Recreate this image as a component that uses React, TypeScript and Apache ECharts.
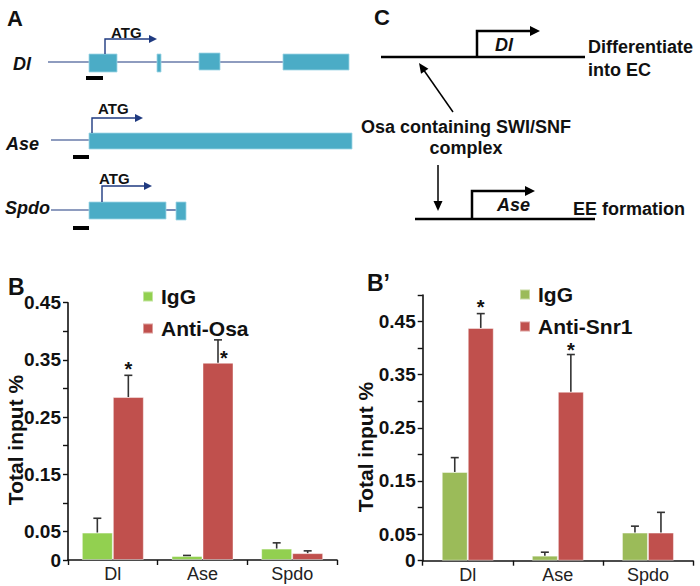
import React, { useEffect, useRef } from 'react';
import * as echarts from 'echarts';

const FONT = '"Liberation Sans", Arial, Helvetica, sans-serif';

// ---- data ----
const categories = ['Dl', 'Ase', 'Spdo'];
// Panel B (Anti-Osa ChIP)
const osaIgG = [0.048, 0.007, 0.02];
const osaIgGSd = [0.025, 0.001, 0.01];
const osaAnti = [0.285, 0.345, 0.012];
const osaAntiSd = [0.038, 0.04, 0.004];
const osaStars = [0.343, 0.3625, null];
const osaStarShift = [0, 6, 0];
// Panel B' (Anti-Snr1 ChIP)
const snrIgG = [0.167, 0.0095, 0.053];
const snrIgGSd = [0.027, 0.0065, 0.012];
const snrAnti = [0.438, 0.318, 0.053];
const snrAntiSd = [0.027, 0.07, 0.038];
const snrStars = [0.486, 0.406, null];
const snrStarShift = [0, 0, 0];
const labeledTicks = [0, 0.05, 0.15, 0.25, 0.35, 0.45];

const GREEN_B = '#92D050';
const GREEN_B2 = '#9BBB59';
const RED = '#C0504D';
const EXON = '#4BACC6';
const NAVY = '#1F3A80';

function arrowHead(tx: number, ty: number, dx: number, dy: number, len: number, half: number, color: string) {
  const l = Math.hypot(dx, dy);
  const ux = dx / l, uy = dy / l;
  const bx = tx - ux * len, by = ty - uy * len;
  const px = -uy, py = ux;
  return {
    type: 'polygon',
    shape: { points: [[tx, ty], [bx + px * half, by + py * half], [bx - px * half, by - py * half]] },
    style: { fill: color },
  };
}

function line(x1: number, y1: number, x2: number, y2: number, color: string, w: number) {
  return { type: 'line', shape: { x1, y1, x2, y2 }, style: { stroke: color, lineWidth: w } };
}

function text(x: number, y: number, t: string, size: number, opts: any = {}) {
  return {
    type: 'text',
    x,
    y,
    style: {
      text: t,
      fontSize: size,
      fontWeight: 'bold',
      fontFamily: FONT,
      fill: '#111',
      textVerticalAlign: 'middle',
      verticalAlign: 'middle',
      ...opts,
    },
  };
}

function exon(x: number, y: number, w: number, h: number) {
  return { type: 'rect', shape: { x, y, width: w, height: h }, style: { fill: EXON, stroke: '#9fd6e6', lineWidth: 0.8 } };
}

function blackBar(x: number, y: number, w: number) {
  return { type: 'rect', shape: { x, y, width: w, height: 4 }, style: { fill: '#000' } };
}

function promoter(x: number, yBase: number, yTop: number, xEnd: number, color: string, w: number, headLen: number, headHalf: number) {
  return [
    { type: 'polyline', shape: { points: [[x, yBase], [x, yTop], [xEnd - headLen + 1, yTop]] }, style: { stroke: color, lineWidth: w, fill: null } },
    arrowHead(xEnd, yTop, 1, 0, headLen, headHalf, color),
  ];
}

function buildGraphics() {
  const g: any[] = [];
  // Panel letters
  g.push(text(7, 18, 'A', 22));
  g.push(text(374, 17, 'C', 22));
  g.push(text(8, 287, 'B', 23));
  g.push(text(367, 283, 'B\u2019', 23));

  // ---- Panel A: gene models ----
  // Dl
  g.push(text(13, 64, 'Dl', 18, { fontStyle: 'italic' }));
  g.push(line(48, 62, 89, 62, NAVY, 1.2));
  g.push(line(117, 62, 157, 62, NAVY, 1.2));
  g.push(line(161, 62, 199, 62, NAVY, 1.2));
  g.push(line(220, 62, 283, 62, NAVY, 1.2));
  g.push(exon(89, 54, 28, 18));
  g.push(exon(157, 54, 4, 18));
  g.push(exon(199, 53, 21, 17));
  g.push(exon(283, 54, 66, 16));
  g.push(...promoter(105, 54, 39, 157, NAVY, 1.4, 8, 4));
  g.push(text(111, 32, 'ATG', 15));
  g.push(blackBar(86, 76, 17));
  // Ase
  g.push(text(6, 144, 'Ase', 18, { fontStyle: 'italic' }));
  g.push(line(51, 140, 89, 140, NAVY, 1.2));
  g.push(exon(89, 133, 263, 16));
  g.push(...promoter(92, 133, 118, 143, NAVY, 1.4, 8, 4));
  g.push(text(98, 108, 'ATG', 15));
  g.push(blackBar(73, 155, 16));
  // Spdo
  g.push(text(5, 208, 'Spdo', 18, { fontStyle: 'italic' }));
  g.push(line(51, 210, 89, 210, NAVY, 1.2));
  g.push(line(166, 210, 176, 210, NAVY, 1.2));
  g.push(exon(89, 202, 77, 17));
  g.push(exon(176, 202, 10, 18));
  g.push(...promoter(102, 202, 186, 152, NAVY, 1.4, 8, 4));
  g.push(text(99, 178, 'ATG', 15));
  g.push(blackBar(73, 226, 16));

  // ---- Panel C: model ----
  g.push(line(381, 57, 585, 57, '#000', 2.5));
  g.push(...promoter(477, 57, 31, 540, '#000', 2.5, 10, 5));
  g.push(text(495, 45, 'Dl', 18, { fontStyle: 'italic' }));
  g.push(text(588, 47, 'Differentiate', 18));
  g.push(text(588, 70, 'into EC', 18));
  g.push(line(453, 112, 423, 69, '#000', 1.5));
  g.push(arrowHead(419, 63, -30, -43, 10, 4.5, '#000'));
  g.push(text(466, 127, 'Osa containing SWI/SNF', 18, { textAlign: 'center', align: 'center' }));
  g.push(text(466, 148, 'complex', 18, { textAlign: 'center', align: 'center' }));
  g.push(line(438, 165, 438, 202, '#000', 1.5));
  g.push(arrowHead(438, 211, 0, 1, 10, 4.5, '#000'));
  g.push(line(415, 219, 595, 219, '#000', 2.5));
  g.push(...promoter(472, 219, 191, 535, '#000', 2.5, 10, 5));
  g.push(text(497, 205, 'Ase', 18, { fontStyle: 'italic' }));
  g.push(text(573, 209, 'EE formation', 18));

  // y-axis titles
  g.push({
    type: 'text',
    x: 15,
    y: 440,
    rotation: Math.PI / 2,
    style: { text: 'Total input %', fontSize: 21, fontWeight: 'bold', fontFamily: FONT, fill: '#111', align: 'center', verticalAlign: 'middle' },
  });
  g.push({
    type: 'text',
    x: 365,
    y: 447,
    rotation: Math.PI / 2,
    style: { text: 'Total input %', fontSize: 21, fontWeight: 'bold', fontFamily: FONT, fill: '#111', align: 'center', verticalAlign: 'middle' },
  });
  return g;
}

function yAxis(gridIndex: number, max: number) {
  return {
    type: 'value',
    gridIndex,
    min: 0,
    max,
    interval: 0.05,
    axisLine: { show: true, lineStyle: { color: '#111', width: 1.6 } },
    axisTick: { show: true, length: 5, lineStyle: { color: '#111', width: 1.4 } },
    splitLine: { show: false },
    axisLabel: {
      margin: 7,
      fontSize: 19,
      fontWeight: 'bold',
      color: '#111',
      fontFamily: FONT,
      formatter: (v: number) => {
        const r = Math.round(v * 100) / 100;
        return labeledTicks.some((t) => Math.abs(t - r) < 1e-6) ? (r === 0 ? '0' : r.toFixed(2)) : '';
      },
    },
  };
}

function xAxis(gridIndex: number) {
  return {
    type: 'category',
    gridIndex,
    data: categories,
    axisLine: { show: true, lineStyle: { color: '#111', width: 1.6 } },
    axisTick: { show: true, length: 5, alignWithLabel: false, lineStyle: { color: '#111', width: 1.4 } },
    axisLabel: { margin: 5, fontSize: 18, color: '#222', fontFamily: FONT },
  };
}

function errSeries(name: string, axis: number, vals: number[], sds: number[], offsetSign: number, barW: number) {
  return {
    type: 'custom',
    name,
    xAxisIndex: axis,
    yAxisIndex: axis,
    z: 5,
    data: vals.map((v, i) => [i, v, sds[i]]),
    encode: { x: 0, y: 1 },
    renderItem: (_p: any, api: any) => {
      const ci = api.value(0);
      const v = api.value(1);
      const sd = api.value(2);
      const b = api.coord([ci, v]);
      const t = api.coord([ci, v + sd]);
      const x = b[0] + (offsetSign * barW) / 2;
      return {
        type: 'group',
        children: [
          { type: 'line', shape: { x1: x, y1: b[1], x2: x, y2: t[1] }, style: { stroke: '#333', lineWidth: 1.6 } },
          { type: 'line', shape: { x1: x - 4, y1: t[1], x2: x + 4, y2: t[1] }, style: { stroke: '#333', lineWidth: 1.6 } },
        ],
      };
    },
  };
}

function starSeries(name: string, axis: number, stars: (number | null)[], shifts: number[], barW: number) {
  const data = stars.map((s, i) => (s == null ? null : [i, s, shifts[i]])).filter((d) => d);
  return {
    type: 'custom',
    name,
    xAxisIndex: axis,
    yAxisIndex: axis,
    z: 6,
    data,
    encode: { x: 0, y: 1 },
    renderItem: (_p: any, api: any) => {
      const c = api.coord([api.value(0), api.value(1)]);
      return {
        type: 'text',
        x: c[0] + barW / 2 + api.value(2),
        y: c[1] + 5,
        style: { text: '*', fontSize: 20, lineHeight: 12, fontWeight: 'bold', fontFamily: FONT, fill: '#111', align: 'center', verticalAlign: 'middle' },
      };
    },
  };
}

function barSeries(name: string, axis: number, vals: number[], color: string, barW: number) {
  return {
    type: 'bar',
    name,
    xAxisIndex: axis,
    yAxisIndex: axis,
    data: vals,
    barWidth: barW,
    barGap: '0%',
    itemStyle: { color, borderColor: 'rgba(255,255,255,0.45)', borderWidth: 1 },
  };
}

export default function App() {
  const ref = useRef<HTMLDivElement>(null);
  useEffect(() => {
    document.body.style.margin = '0';
    if (!ref.current) return;
    const chart = echarts.init(ref.current, null, { renderer: 'svg' });
    const BW1 = 31;
    const BW2 = 26;
    const legendText = { fontSize: 21, fontWeight: 'bold', color: '#111', fontFamily: FONT, lineHeight: 20, padding: [0, 0, 0, 3] };
    chart.setOption({
      animation: false,
      backgroundColor: '#fff',
      textStyle: { fontFamily: FONT },
      grid: [
        { left: 68, top: 302.7, width: 269, height: 257.3, containLabel: false },
        { left: 422.7, top: 295, width: 270.3, height: 265.7, containLabel: false },
      ],
      xAxis: [xAxis(0), xAxis(1)],
      yAxis: [yAxis(0, 0.45), yAxis(1, 0.5)],
      legend: [
        {
          left: 137,
          top: 281,
          orient: 'vertical',
          icon: 'rect',
          itemWidth: 10,
          itemHeight: 10,
          itemGap: 11,
          selectedMode: false,
          formatter: (n: string) => (n.indexOf('IgG') === 0 ? 'IgG' : n),
          textStyle: legendText,
          data: [{ name: 'IgG (Osa)' }, { name: 'Anti-Osa' }],
        },
        {
          left: 514,
          top: 279,
          orient: 'vertical',
          icon: 'rect',
          itemWidth: 10,
          itemHeight: 10,
          itemGap: 11,
          selectedMode: false,
          formatter: (n: string) => (n.indexOf('IgG') === 0 ? 'IgG' : n),
          textStyle: legendText,
          data: [{ name: 'IgG (Snr1)' }, { name: 'Anti-Snr1' }],
        },
      ],
      graphic: buildGraphics(),
      series: [
        barSeries('IgG (Osa)', 0, osaIgG, GREEN_B, BW1),
        barSeries('Anti-Osa', 0, osaAnti, RED, BW1),
        errSeries('errOsaIgG', 0, osaIgG, osaIgGSd, -1, BW1),
        errSeries('errOsaAnti', 0, osaAnti, osaAntiSd, 1, BW1),
        starSeries('starsOsa', 0, osaStars, osaStarShift, BW1),
        barSeries('IgG (Snr1)', 1, snrIgG, GREEN_B2, BW2),
        barSeries('Anti-Snr1', 1, snrAnti, RED, BW2),
        errSeries('errSnrIgG', 1, snrIgG, snrIgGSd, -1, BW2),
        errSeries('errSnrAnti', 1, snrAnti, snrAntiSd, 1, BW2),
        starSeries('starsSnr', 1, snrStars, snrStarShift, BW2),
      ],
    });
    return () => chart.dispose();
  }, []);
  return <div ref={ref} style={{ position: 'absolute', left: 0, top: 0, width: 700, height: 586 }} />;
}
